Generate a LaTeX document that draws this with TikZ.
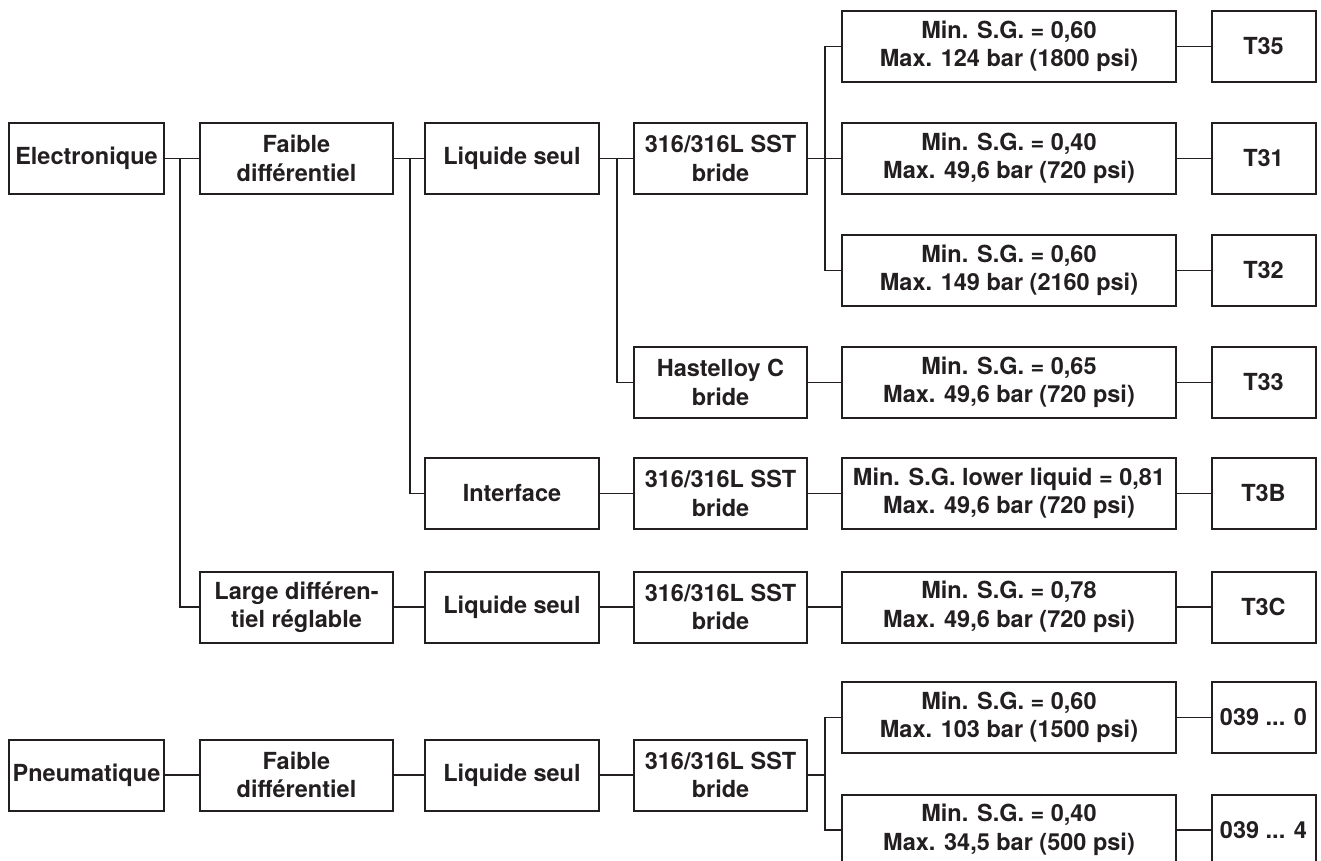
\documentclass[tikz,border=0pt]{standalone}
\usepackage{fontspec}
\setmainfont{TeX Gyre Heros}
\definecolor{ink}{HTML}{231F20}
\tikzset{
    box/.style={draw=ink, text=ink, line width=2pt, minimum height=71pt,
        inner sep=1pt, align=center,
        font=\fontsize{23.5}{28.5}\selectfont\bfseries},
    kindbox/.style={box, minimum width=155pt},
    diffbox/.style={box, minimum width=193pt},
    fluidbox/.style={box, minimum width=174pt},
    matbox/.style={box, minimum width=173pt},
    specbox/.style={box, minimum width=334pt},
    codebox/.style={box, minimum width=104pt},
    link/.style={draw=ink, line width=1.2pt}
}
\begin{document}
\begin{tikzpicture}[x=1pt,y=-1pt]
    \useasboundingbox (0,0) rectangle (1321,861);
    \clip (0,0) rectangle (1321,861);

    % electronic branch
    \node[kindbox]  (elec)   at (86.5,158.5) {Electronique};
    \node[diffbox]  (faible) at (296.5,158.5) {Faible\\différentiel};
    \node[diffbox]  (large)  at (296.5,607)   {Large différen-\\tiel réglable};
    \node[fluidbox] (liqA)   at (512,158.5)   {Liquide seul};
    \node[fluidbox] (interf) at (512,493.5)   {Interface};
    \node[fluidbox] (liqB)   at (512,607)     {Liquide seul};
    \node[matbox]   (matA)   at (720.5,158.5) {316/316L SST\\bride};
    \node[matbox]   (hast)   at (720.5,382.5) {Hastelloy C\\bride};
    \node[matbox]   (matB)   at (720.5,493.5) {316/316L SST\\bride};
    \node[matbox]   (matC)   at (720.5,607)   {316/316L SST\\bride};

    \node[specbox] (specA) at (1009,46.5)  {Min. S.G. = 0,60\\Max. 124 bar (1800 psi)};
    \node[specbox] (specB) at (1009,158.5) {Min. S.G. = 0,40\\Max. 49,6 bar (720 psi)};
    \node[specbox] (specC) at (1009,270.5) {Min. S.G. = 0,60\\Max. 149 bar (2160 psi)};
    \node[specbox] (specD) at (1009,382.5) {Min. S.G. = 0,65\\Max. 49,6 bar (720 psi)};
    \node[specbox] (specE) at (1009,493.5) {Min. S.G. lower liquid = 0,81\\Max. 49,6 bar (720 psi)};
    \node[specbox] (specF) at (1009,607)   {Min. S.G. = 0,78\\Max. 49,6 bar (720 psi)};

    \node[codebox] (codeA) at (1263.5,46.5)  {T35};
    \node[codebox] (codeB) at (1263.5,158.5) {T31};
    \node[codebox] (codeC) at (1263.5,270.5) {T32};
    \node[codebox] (codeD) at (1263.5,382.5) {T33};
    \node[codebox] (codeE) at (1263.5,493.5) {T3B};
    \node[codebox] (codeF) at (1263.5,607)   {T3C};

    % pneumatic branch
    \node[kindbox]  (pneu)    at (86.5,775)  {Pneumatique};
    \node[diffbox]  (faibleP) at (296.5,775) {Faible\\différentiel};
    \node[fluidbox] (liqP)    at (512,775)   {Liquide seul};
    \node[matbox]   (matP)    at (720.5,775) {316/316L SST\\bride};
    \node[specbox]  (specP)   at (1009,717.5) {Min. S.G. = 0,60\\Max. 103 bar (1500 psi)};
    \node[specbox]  (specQ)   at (1009,830)   {Min. S.G. = 0,40\\Max. 34,5 bar (500 psi)};
    \node[codebox]  (codeP)   at (1263.5,717.5) {039 ... 0};
    \node[codebox]  (codeQ)   at (1263.5,830)   {039 ... 4};

    \foreach \a/\b in {elec/faible, faible/liqA, liqA/matA, matA/specB,
        hast/specD, interf/matB, matB/specE, large/liqB, liqB/matC, matC/specF,
        pneu/faibleP, faibleP/liqP, liqP/matP}
    {   \draw[link] (\a) -- (\b);
    }
    \foreach \s in {A,B,C,D,E,F,P,Q}
    {   \draw[link] (spec\s) -- (code\s);
    }

    \draw[link] (elec.east) -- ++(15,0) |- (large.west);
    \draw[link] (faible.east) -- ++(16,0) |- (interf.west);
    \draw[link] (liqA.east) -- ++(17,0) |- (hast.west);
    \foreach \s in {A,C}
    {   \draw[link] (matA.east) -- ++(17,0) |- (spec\s.west);
    }
    \foreach \s in {P,Q}
    {   \draw[link] (matP.east) -- ++(17,0) |- (spec\s.west);
    }
\end{tikzpicture}
\end{document}
